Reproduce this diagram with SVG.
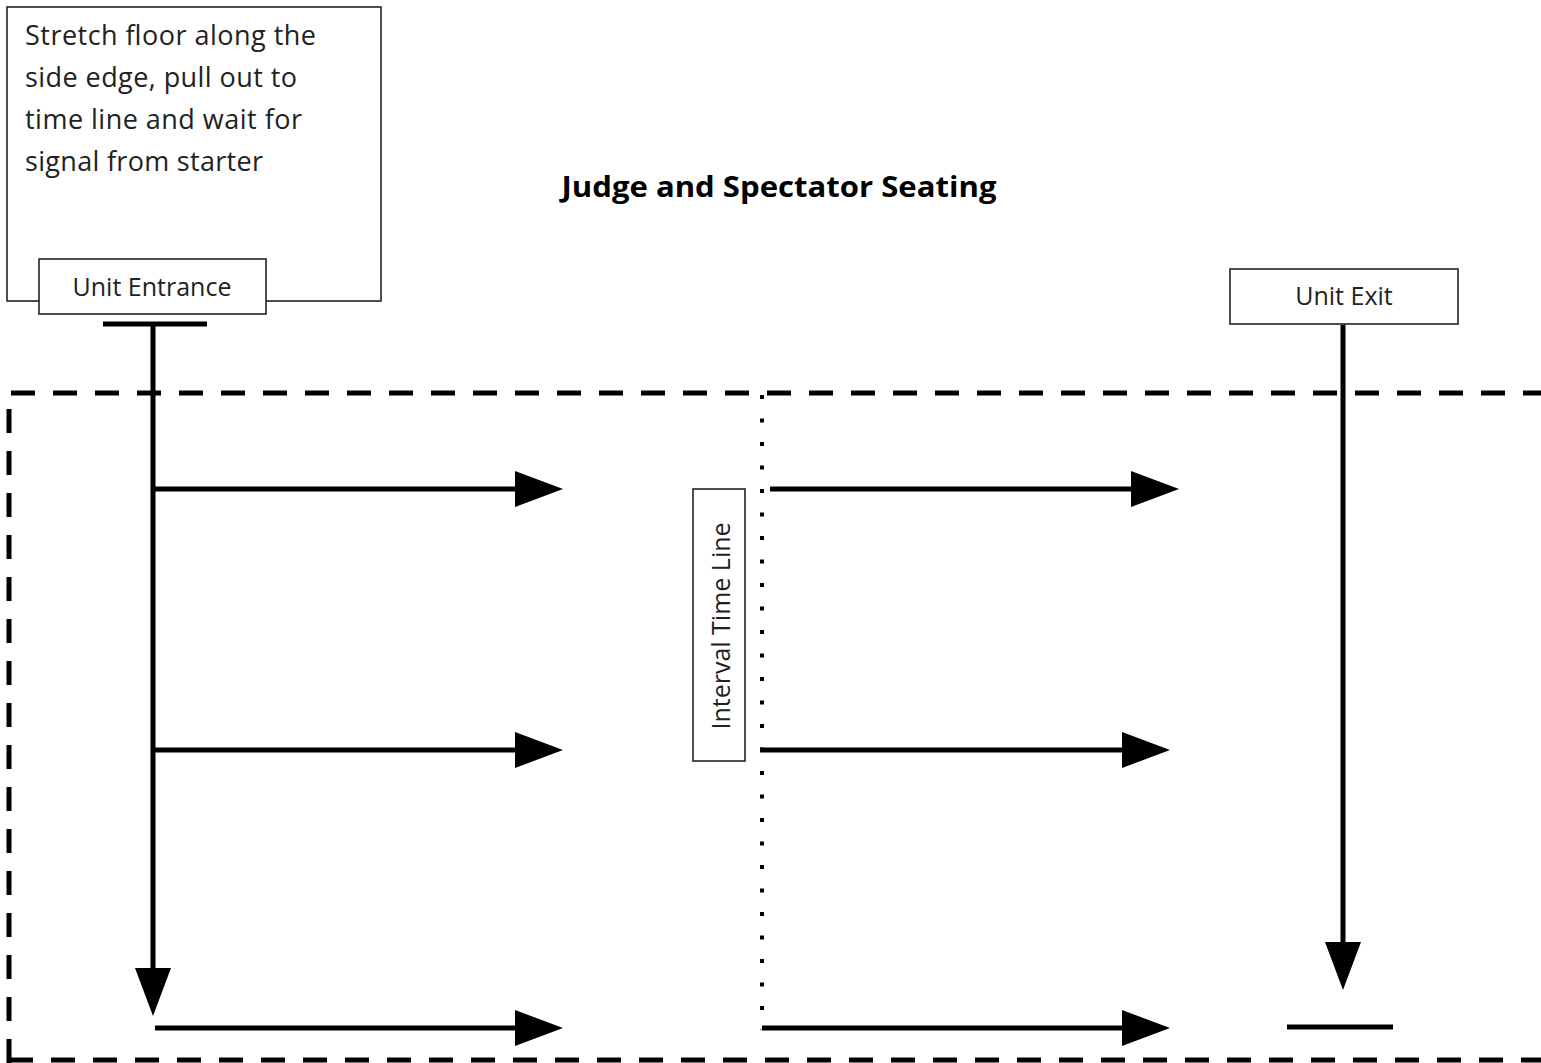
<svg xmlns="http://www.w3.org/2000/svg" width="1541" height="1063" viewBox="0 0 1541 1063">
<style>
.box{fill:#fff;stroke:#222;stroke-width:1.6}
.t{font-family:"Open Sans","DejaVu Sans",sans-serif;fill:#222}
.ln{stroke:#000;stroke-width:5;fill:none}
.dash{stroke:#000;stroke-width:5;fill:none;stroke-dasharray:24 18}
.dot{stroke:#000;stroke-width:4;fill:none;stroke-dasharray:4 19.5}
</style>
<defs>
<marker id="ah" markerUnits="userSpaceOnUse" markerWidth="48" markerHeight="36" refX="1" refY="18" orient="auto" overflow="visible">
<path d="M0,0 L48,18 L0,36 Z" fill="#000"/>
</marker>
</defs>
<rect width="1541" height="1063" fill="#fff"/>
<g id="area">
<path class="dash" d="M9,1063 V393 H1541"/>
<path class="dash" d="M9,1060 H1541"/>
<path class="dot" d="M762,395 V1030"/>
</g>
<g id="title">
<text x="779" y="197" font-size="29" font-weight="bold" text-anchor="middle" fill="#000" font-family="Open Sans, sans-serif" textLength="435" lengthAdjust="spacingAndGlyphs">Judge and Spectator Seating</text>
</g>
<g id="note">
<rect class="box" x="7" y="7" width="374" height="294"/>
<text class="t" font-size="27">
<tspan x="25" y="45" textLength="291">Stretch floor along the</tspan>
<tspan x="25" y="87" textLength="272">side edge, pull out to</tspan>
<tspan x="25" y="129" textLength="277">time line and wait for</tspan>
<tspan x="25" y="171" textLength="238">signal from starter</tspan>
</text>
</g>
<g id="entrance">
<rect class="box" x="39" y="259" width="227" height="55"/>
<text class="t" x="152" y="296" font-size="25" text-anchor="middle">Unit Entrance</text>
</g>
<g id="exit">
<rect class="box" x="1230" y="269" width="228" height="55"/>
<text class="t" x="1344" y="305" font-size="25" text-anchor="middle">Unit Exit</text>
</g>
<g id="interval">
<rect class="box" x="693" y="489" width="52" height="272"/>
<text class="t" transform="translate(730,626) rotate(-90)" x="0" y="0" font-size="25" text-anchor="middle">Interval Time Line</text>
</g>
<g id="connectors">
<line class="ln" x1="103" y1="324" x2="207" y2="324"/>
<line class="ln" x1="153" y1="324" x2="153" y2="969" marker-end="url(#ah)"/>
<line class="ln" x1="155" y1="489" x2="516" y2="489" marker-end="url(#ah)"/>
<line class="ln" x1="155" y1="750" x2="516" y2="750" marker-end="url(#ah)"/>
<line class="ln" x1="155" y1="1028" x2="516" y2="1028" marker-end="url(#ah)"/>
<line class="ln" x1="770" y1="489" x2="1132" y2="489" marker-end="url(#ah)"/>
<line class="ln" x1="760" y1="750" x2="1123" y2="750" marker-end="url(#ah)"/>
<line class="ln" x1="762" y1="1028" x2="1123" y2="1028" marker-end="url(#ah)"/>
<line class="ln" x1="1343" y1="325" x2="1343" y2="943" marker-end="url(#ah)"/>
<line class="ln" x1="1287" y1="1027" x2="1393" y2="1027"/>
</g>
</svg>
